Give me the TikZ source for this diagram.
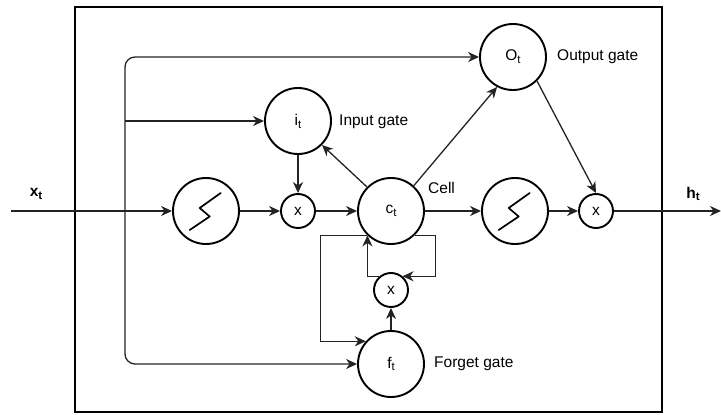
\documentclass[tikz,border=0pt]{standalone}
\usepackage{fontspec}
\setmainfont{Liberation Sans}
\usetikzlibrary{arrows.meta,calc}
\definecolor{linec}{RGB}{35,35,35}
\tikzset{
  x=1pt,y=-1pt,
  every node/.style={font=\fontsize{15.5}{18}\selectfont},
  big/.style={circle,draw=black,line width=1.9pt,minimum size=66pt,inner sep=0pt},
  small/.style={circle,draw=black,line width=1.9pt,minimum size=34pt,inner sep=0pt},
  conn/.style={draw=linec,line width=1.3pt,-{Stealth[length=11pt,width=10pt,inset=3.5pt]}},
  lbl/.style={anchor=west,inner sep=0pt},
}
\newcommand{\sub}[1]{\raisebox{-0.35ex}{\fontsize{11.5}{12}\selectfont #1}}
\newcommand{\sigglyph}[1]{\draw[line width=1.7pt,line cap=round,line join=round] ($(#1)+(14.7,-18)$) -- ($(#1)+(-6.3,-3)$) -- ($(#1)+(3.7,5.5)$) -- ($(#1)+(-16.3,19)$);}
\begin{document}
\begin{tikzpicture}
\useasboundingbox (0,0) rectangle (721,415);
% outer frame
\draw[line width=2.4pt,draw=black] (75,7) rectangle (662,412);
% nodes
\node[big] (s1) at (206,211) {};
\node[small] (m1) at (298,211) {x};
\node[big] (ct) at (391,211) {c\sub{t}};
\node[big] (it) at (298,121) {i\sub{t}};
\node[big] (ot) at (513,57) {O\sub{t}};
\node[big] (s2) at (515,211) {};
\node[small] (m2) at (596,211) {x};
\node[small] (m3) at (391,290) {x};
\node[big] (ft) at (391,364) {f\sub{t}};
\sigglyph{s1}
\sigglyph{s2}
% input / output
\coordinate (xin) at (11,211);
\coordinate (hout) at (721,211);
\coordinate (br) at (125,211);
\coordinate (bi) at (125,121);
\node (xt) at (36,194) {\textbf{x\sub{t}}};
\node (ht) at (693,194) {\textbf{h\sub{t}}};
% main line
\draw[conn] (xin) -- (s1);
\draw[conn] (s1) -- (m1);
\draw[conn] (m1) -- (ct);
\draw[conn] (ct) -- (s2);
\draw[conn] (s2) -- (m2);
\draw[conn] (m2) -- (hout);
% bypass lines
\draw[conn,rounded corners=10pt] (br) |- (ot);
\draw[conn,rounded corners=10pt] (br) |- (ft);
\draw[conn] (bi) -- (it);
% gates
\draw[conn] (it) -- (m1);
\draw[conn] (ct.135) -- (it.-45);
\draw[conn] (ct.48) -- (ot.-118);
\draw[conn] (ot.-45) -- (m2.north);
% cell loop
\draw[conn] (ct.226) -- ++(-47,0) |- (ft.138);
\draw[conn] (ct.-46) -- ++(21,0) |- (m3.50);
\draw[conn] (m3.130) -| (ct.226);
\draw[conn] (ft) -- (m3);
% labels
\node[lbl] (lin) at (339,122) {Input gate};
\node[lbl] (lout) at (557,57) {Output gate};
\node[lbl] (lcell) at (428,188) {Cell};
\node[lbl] (lfor) at (434,364) {Forget gate};
\end{tikzpicture}
\end{document}
